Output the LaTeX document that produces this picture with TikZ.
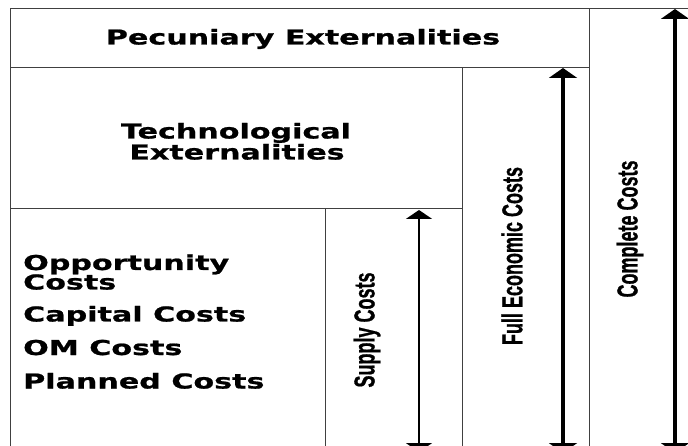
\documentclass[tikz,border=0pt]{standalone}
\usepackage{fontspec}
\usetikzlibrary{arrows.meta}
\newfontfamily\boxfont[FakeStretch=1.47,FakeBold=1]{DejaVu Sans}
\newfontfamily\sidefont[FakeBold=1]{Liberation Sans}
\newcommand{\tallside}[1]{\scalebox{1}[1.6]{#1}}
\tikzset{
  frame/.style={draw=black!75, line width=1pt},
  boxtext/.style={font=\boxfont\bfseries\fontsize{20.5}{20.5}\selectfont, inner sep=0pt, anchor=base},
  sidetext/.style={font=\sidefont\bfseries\fontsize{18}{18}\selectfont, rotate=90, inner sep=0pt},
  bigspan/.style={{Triangle[width=28pt,length=10pt]}-{Triangle[width=28pt,length=10pt]}, line width=4pt},
  smallspan/.style={{Triangle[width=26pt,length=9pt]}-{Triangle[width=26pt,length=9pt]}, line width=2.5pt},
}
\begin{document}
\begin{tikzpicture}[x=1pt,y=-1pt]
    \useasboundingbox (0,0) rectangle (688,446);
    %% Boxes
    \draw[frame] (688,9) -- (10,9) -- (10,446);
    \draw[frame] (10,68) -- (589,68);
    \draw[frame] (589,9) -- (589,446);
    \draw[frame] (10,209) -- (462,209);
    \draw[frame] (462,68) -- (462,446);
    \draw[frame] (325,209) -- (325,446);
    %% Box labels
    \node[boxtext] (pec) at (303,44.5) {Pecuniary Externalities};
    \node[boxtext] (tech) at (236,138.5) {Technological};
    \node[boxtext] (techext) at (237,159.5) {Externalities};
    \node[boxtext,anchor=base west] (opp) at (23,270) {Opportunity};
    \node[boxtext,anchor=base west] (oppcost) at (23,289.5) {Costs};
    \node[boxtext,anchor=base west] (capital) at (23,321.5) {Capital Costs};
    \node[boxtext,anchor=base west] (om) at (23,355) {OM Costs};
    \node[boxtext,anchor=base west] (planned) at (23,388.5) {Planned Costs};
    %% Spans
    \coordinate (supplytop) at (419,210);
    \coordinate (supplybot) at (419,452);
    \coordinate (fulltop) at (563,68);
    \coordinate (fullbot) at (563,453);
    \coordinate (completetop) at (675,9);
    \coordinate (completebot) at (675,453);
    \draw[smallspan] (supplytop) -- (supplybot);
    \draw[bigspan] (fulltop) -- (fullbot);
    \draw[bigspan] (completetop) -- (completebot);
    \node[sidetext] (supply) at (367,330) {\tallside{Supply Costs}};
    \node[sidetext] (full) at (512,256) {\tallside{Full Economic Costs}};
    \node[sidetext] (complete) at (630,229) {\tallside{Complete Costs}};
\end{tikzpicture}
\end{document}
